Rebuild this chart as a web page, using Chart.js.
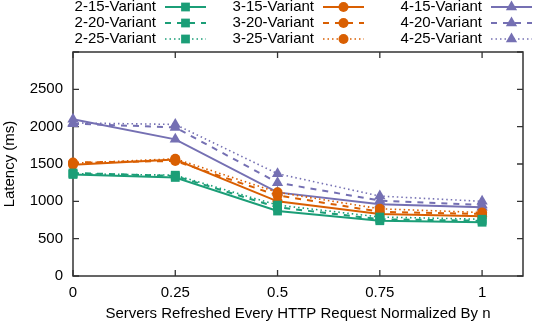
<!DOCTYPE html>
<html>
<head>
<meta charset="utf-8">
<script src="https://cdn.jsdelivr.net/npm/chart.js@4.4.1/dist/chart.umd.min.js"></script>
<style>
  html, body { margin: 0; padding: 0; background: #fff; }
  #wrap { width: 538px; height: 324px; }
</style>
</head>
<body>
<div id="wrap"><canvas id="grafico" width="538" height="324"></canvas></div>
<script>
// datos
const xValues = [0, 0.25, 0.5, 0.75, 1];
const xTicks = [0, 0.25, 0.5, 0.75, 1];
const yTicks = [0, 500, 1000, 1500, 2000, 2500, 3000];

const v2_15 = [1360, 1320, 870, 740, 720];
const v2_20 = [1380, 1340, 920, 760, 740];
const v2_25 = [1370, 1350, 950, 790, 760];
const v3_15 = [1490, 1560, 1000, 830, 800];
const v3_20 = [1520, 1540, 1080, 860, 830];
const v3_25 = [1510, 1570, 1120, 900, 850];
const v4_15 = [2100, 1830, 1120, 960, 920];
const v4_20 = [2040, 1990, 1250, 1010, 950];
const v4_25 = [2050, 2030, 1370, 1070, 1000];

const nombres = ['2-15-Variant', '2-20-Variant', '2-25-Variant',
                 '3-15-Variant', '3-20-Variant', '3-25-Variant',
                 '4-15-Variant', '4-20-Variant', '4-25-Variant'];
const series = [v2_15, v2_20, v2_25, v3_15, v3_20, v3_25, v4_15, v4_20, v4_25];

const colores = ['#1b9e77', '#d95f02', '#7570b3'];
const puntos = ['rect', 'circle', 'triangle'];
const radios = [6.2, 5, 6.5];
const dashes = [[], [6, 6], [1.5, 3]];
const anchos = [2, 2, 1.6];

const FONT = "'Liberation Sans', Arial, sans-serif";

const datasets = series.map((vals, i) => {
    const g = Math.floor(i / 3), s = i % 3;
    return {
        label: nombres[i],
        data: vals.map((v, k) => ({ x: xValues[k], y: v })),
        borderColor: colores[g],
        backgroundColor: colores[g],
        borderWidth: anchos[s],
        borderDash: dashes[s],
        pointStyle: puntos[g],
        pointRadius: radios[g],
        pointBorderWidth: 0,
        pointBackgroundColor: colores[g],
        tension: 0,
        clip: false
    };
});

// ticks hacia adentro en los 4 lados y el borde
const marcoPlugin = {
    id: 'marco',
    beforeDatasetsDraw(chart) {
        const { ctx, chartArea: a, scales } = chart;
        ctx.save();
        ctx.strokeStyle = '#333';
        ctx.lineWidth = 1.3;
        ctx.beginPath();
        yTicks.forEach(v => {
            const y = scales.y.getPixelForValue(v);
            ctx.moveTo(a.left, y); ctx.lineTo(a.left + 6, y);
            ctx.moveTo(a.right, y); ctx.lineTo(a.right - 6, y);
        });
        xTicks.forEach(v => {
            const x = scales.x.getPixelForValue(v);
            ctx.moveTo(x, a.bottom); ctx.lineTo(x, a.bottom - 6);
            ctx.moveTo(x, a.top); ctx.lineTo(x, a.top + 6);
        });
        ctx.stroke();
        ctx.lineWidth = 1.5;
        ctx.strokeRect(a.left, a.top, a.right - a.left, a.bottom - a.top);
        ctx.restore();
    }
};

// leyenda estilo gnuplot: texto a la derecha y muestra de linea
const leyendaPlugin = {
    id: 'leyenda',
    afterDraw(chart) {
        const { ctx } = chart;
        const textoDer = [156, 314, 482];
        const filas = [7, 23, 39];
        ctx.save();
        ctx.font = '15px ' + FONT;
        ctx.textAlign = 'right';
        ctx.textBaseline = 'middle';
        chart.data.datasets.forEach((ds, i) => {
            const g = Math.floor(i / 3), s = i % 3;
            const tx = textoDer[g], ty = filas[s];
            ctx.fillStyle = '#000';
            ctx.fillText(ds.label, tx, ty);
            const x0 = tx + 9, x1 = tx + 50;
            ctx.strokeStyle = ds.borderColor;
            ctx.lineWidth = ds.borderWidth;
            ctx.setLineDash(ds.borderDash);
            ctx.beginPath();
            ctx.moveTo(x0, ty); ctx.lineTo(x1, ty);
            ctx.stroke();
            ctx.setLineDash([]);
            ctx.fillStyle = ds.borderColor;
            Chart.helpers.drawPoint(ctx, { pointStyle: ds.pointStyle, radius: ds.pointRadius, borderWidth: 0 }, (x0 + x1) / 2, ty);
        });
        ctx.restore();
    }
};

const chart = new Chart(document.getElementById('grafico').getContext('2d'), {
    type: 'line',
    data: { datasets },
    plugins: [marcoPlugin, leyendaPlugin],
    options: {
        responsive: false,
        animation: false,
        layout: { padding: { top: 52, right: 15, left: 0, bottom: 0 } },
        plugins: { legend: { display: false }, tooltip: { enabled: false } },
        scales: {
            x: {
                type: 'linear',
                min: 0,
                max: 1.1,
                afterBuildTicks: scale => { scale.ticks = xTicks.map(v => ({ value: v })); },
                afterFit: scale => { scale.height = 48; },
                grid: { display: false, drawTicks: false },
                border: { display: false },
                ticks: {
                    color: '#000',
                    padding: 8,
                    maxRotation: 0,
                    font: { family: FONT, size: 15 },
                    callback: v => String(v)
                },
                title: {
                    display: true,
                    text: 'Servers Refreshed Every HTTP Request Normalized By n',
                    color: '#000',
                    font: { family: FONT, size: 15 },
                    padding: { top: 0, bottom: 1 }
                }
            },
            y: {
                min: 0,
                max: 3000,
                afterBuildTicks: scale => { scale.ticks = yTicks.map(v => ({ value: v })); },
                afterFit: scale => { scale.width = 73; },
                grid: { display: false, drawTicks: false },
                border: { display: false },
                ticks: {
                    color: '#000',
                    padding: 10,
                    font: { family: FONT, size: 15 },
                    callback: v => (v === 3000 ? '' : String(v))
                },
                title: {
                    display: true,
                    text: 'Latency (ms)',
                    color: '#000',
                    font: { family: FONT, size: 15 },
                    padding: { top: 1, bottom: 0 }
                }
            }
        }
    }
});
</script>
</body>
</html>
